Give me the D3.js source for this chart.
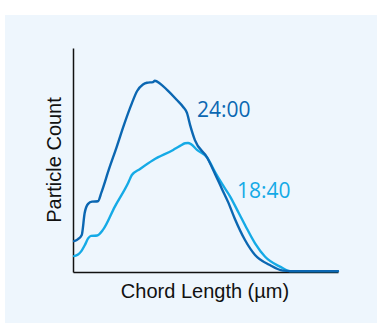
<!DOCTYPE html>
<html>
<head>
<meta charset="utf-8">
<script src="https://cdn.jsdelivr.net/npm/d3@7"></script>
<style>
  html, body { margin: 0; padding: 0; background: #ffffff; }
  svg { display: block; }
</style>
</head>
<body>
<svg id="chart" width="377" height="323"></svg>
<script>
// Chord length distribution at two sampling times (relative units)
const chordLength2400 = [0.4, 1.9, 3.3, 4.4, 5.7, 7.2, 9.4, 10.8, 13.6, 16.5, 19.2, 22.2, 24.2, 26.4, 27.9, 30.2, 30.9, 32.8, 35.5, 39.2, 41.5, 43.0, 44.2, 46.0, 50.6, 53.6, 56.2, 58.5, 61.1, 64.9, 68.7, 74.3, 79.2, 81.9, 100];
const count2400 = [13.8, 14.7, 16.5, 26.3, 30.4, 31.4, 31.6, 35.8, 46.0, 55.9, 65.6, 75.3, 80.8, 83.7, 84.5, 84.8, 85.4, 84.2, 81.3, 76.8, 73.8, 71.0, 65.6, 58.9, 51.1, 43.8, 37.1, 31.3, 23.7, 14.3, 7.6, 3.1, 0.6, 0.4, 0.4];

const chordLength1840 = [0.4, 1.9, 3.0, 4.5, 5.7, 6.8, 9.1, 11.3, 15.8, 20.8, 22.2, 25.3, 30.3, 37.8, 40.4, 42.3, 43.4, 44.5, 46.8, 50.6, 53.6, 56.2, 59.2, 62.6, 64.9, 68.7, 72.5, 78.1, 81.9, 100];
const count1840 = [7.1, 7.8, 9.1, 12.1, 15.0, 16.1, 16.3, 18.8, 29.2, 39.7, 43.3, 46.0, 50.0, 54.5, 56.3, 57.5, 57.6, 57.1, 54.5, 51.1, 44.6, 39.4, 33.9, 26.2, 21.0, 12.8, 6.8, 2.4, 0.4, 0.4];

const seriesNames = ["24:00", "18:40"];
const seriesColors = ["#0b67b2", "#15aae6"];
const xAxisTitle = "Chord Length (µm)";
const yAxisTitle = "Particle Count";

const svg = d3.select("#chart");

// light panel behind the plot
svg.append("rect")
  .attr("x", 5).attr("y", 15)
  .attr("width", 372).attr("height", 308)
  .attr("fill", "#eef6fd");

const plot = { left: 73, right: 338, top: 48, bottom: 272 };

const x = d3.scaleLinear().domain([0, 100]).range([plot.left, plot.right]);
const y = d3.scaleLinear().domain([0, 100]).range([plot.bottom, plot.top]);

const line = d3.line()
  .x(d => x(d[0]))
  .y(d => y(d[1]))
  .curve(d3.curveMonotoneX);

const series = [
  { name: seriesNames[1], color: seriesColors[1], pts: d3.zip(chordLength1840, count1840) },
  { name: seriesNames[0], color: seriesColors[0], pts: d3.zip(chordLength2400, count2400) }
];

// axes without ticks, only the baseline and left edge
svg.append("g")
  .attr("transform", `translate(0,${plot.bottom})`)
  .call(d3.axisBottom(x).tickValues([]).tickSizeOuter(0))
  .call(g => g.select(".domain").attr("stroke", "#111").attr("stroke-width", 1.5));

svg.append("g")
  .attr("transform", `translate(${plot.left},0)`)
  .call(d3.axisLeft(y).tickValues([]).tickSizeOuter(0))
  .call(g => g.select(".domain").attr("stroke", "#111").attr("stroke-width", 1.5));

svg.append("g")
  .selectAll("path")
  .data(series)
  .join("path")
  .attr("fill", "none")
  .attr("stroke", d => d.color)
  .attr("stroke-width", 2.4)
  .attr("stroke-linejoin", "round")
  .attr("stroke-linecap", "round")
  .attr("d", d => line(d.pts));

// series labels
svg.append("text")
  .attr("x", 197).attr("y", 117)
  .attr("fill", seriesColors[0])
  .attr("font-family", "'Open Sans', sans-serif")
  .attr("font-size", 21)
  .text(seriesNames[0]);

svg.append("text")
  .attr("x", 237).attr("y", 198)
  .attr("fill", seriesColors[1])
  .attr("font-family", "'Open Sans', sans-serif")
  .attr("font-size", 21)
  .text(seriesNames[1]);

// axis titles
svg.append("text")
  .attr("x", 205)
  .attr("y", 298)
  .attr("text-anchor", "middle")
  .attr("fill", "#111")
  .attr("font-family", "'Liberation Sans', Arial, sans-serif")
  .attr("font-size", 20)
  .text(xAxisTitle);

svg.append("text")
  .attr("transform", "translate(61,160) rotate(-90)")
  .attr("text-anchor", "middle")
  .attr("fill", "#111")
  .attr("font-family", "'Liberation Sans', Arial, sans-serif")
  .attr("font-size", 20)
  .text(yAxisTitle);
</script>
</body>
</html>
